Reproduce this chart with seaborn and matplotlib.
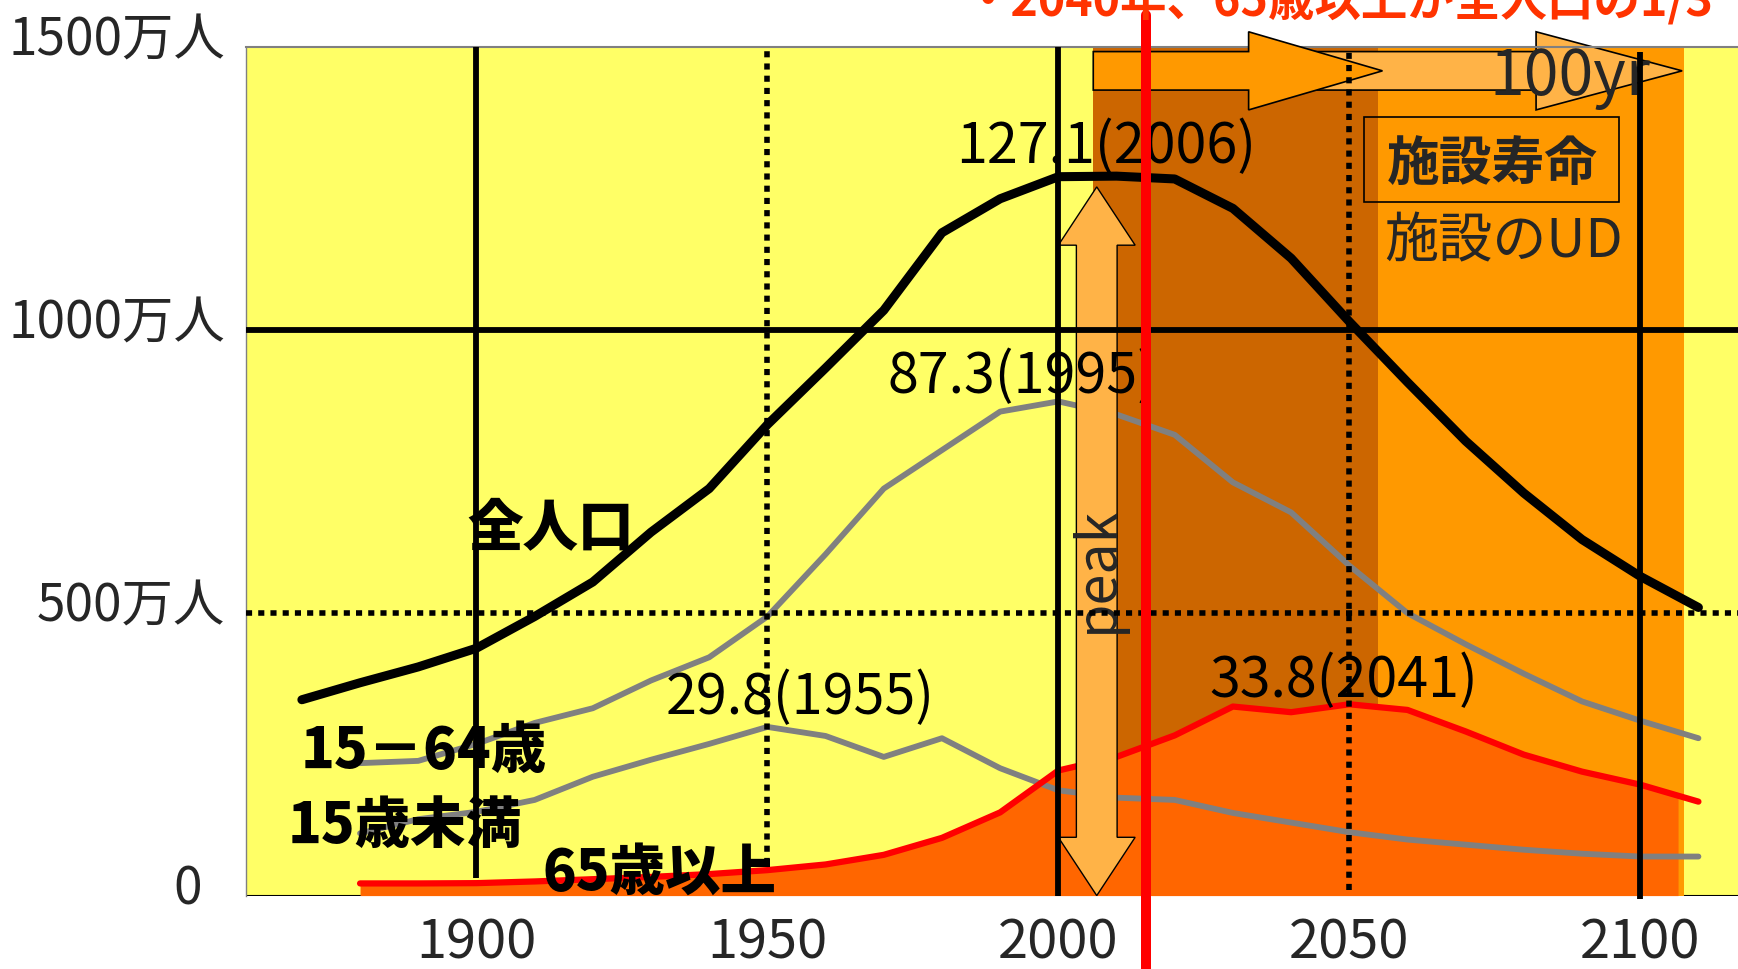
import numpy as np
import matplotlib
matplotlib.use("Agg")
import matplotlib.pyplot as plt
from matplotlib.patches import Polygon, Rectangle
from matplotlib.transforms import ScaledTranslation
import seaborn as sns

# Population of Japan (units as labelled on the axis), actual + projected
years = list(range(1870, 2111, 10))
total = [346, 376, 404, 437, 493, 554, 642, 719, 832, 932, 1034, 1171, 1231,
         1270, 1271, 1266, 1214, 1126, 1014, 907, 803, 711, 629, 564, 509]

years_age = list(range(1880, 2111, 10))
age_15_64 = [234, 238, 268, 305, 331, 380, 421, 493, 603, 719, 787, 855, 873,
             850, 814, 730, 677, 583, 499, 444, 392, 343, 309, 278]
age_0_14 = [110, 135, 148, 169, 210, 240, 268, 298, 282, 245, 278, 225, 186,
            173, 169, 146, 129, 112, 99, 90, 81, 74, 69, 69]
age_65 = [21.5, 21.5, 22, 25, 29, 33, 38, 45, 55, 72, 102, 147, 221, 245,
          283, 334, 324, 338, 328, 290, 249, 219, 196, 166]

y_ticks = [0, 500, 1000, 1500]
y_labels = ["0  ", "500万人", "1000万人", "1500万人"]
x_ticks = [1900, 1950, 2000, 2050, 2100]
x_labels = ["1900", "1950", "2000", "2050", "2100"]

peak_labels = ["127.1(2006)", "87.3(1995)", "29.8(1955)", "33.8(2041)"]
series_names = ["全人口", "15－64歳", "15歳未満", "65歳以上"]
title = "・2040年、65歳以上が全人口の1/3"

# facility life-span periods (peak -> +50 -> +100 years)
PEAK_YEAR = 2006
MID_YEAR = 2055
END_YEAR = 2107.5
NOW_YEAR = 2015

YELLOW = "#FFFF66"
BROWN = "#CC6600"
ORANGE = "#FF9900"
LIGHT = "#FFB347"
FILL = "#FF6600"
GREY = "#808080"
RED = "#FF0000"

sns.set_style("white")
plt.rcParams["font.family"] = ["Noto Sans CJK JP", "DejaVu Sans"]

fig = plt.figure(figsize=(17.38, 9.69), dpi=100)
ax = fig.add_axes([246 / 1738, 73.4 / 969, 1 - 246 / 1738, 849.1 / 969])
ax.set_facecolor(YELLOW)
ax.set_xlim(1860.4, 2116.8)
ax.set_ylim(0, 1500)

# life-span zones
ax.axvspan(PEAK_YEAR, MID_YEAR, color=BROWN, lw=0, zorder=1)
ax.axvspan(MID_YEAR, END_YEAR, color=ORANGE, lw=0, zorder=1)

# area under the 65+ series
fill_end = END_YEAR - 1
fx = [y for y in years_age if y < fill_end] + [fill_end]
fy = [v for y, v in zip(years_age, age_65) if y < fill_end] + [np.interp(fill_end, years_age, age_65)]
ax.fill_between(fx, 0, fy, color=FILL, lw=0, zorder=1.5)

ax.axhline(0, color="black", lw=1.5, zorder=0.8)

# series lines
sns.lineplot(x=years_age, y=age_15_64, color=GREY, lw=4.2, ax=ax, zorder=2)
sns.lineplot(x=years_age, y=age_0_14, color=GREY, lw=4.2, ax=ax, zorder=2)
sns.lineplot(x=years_age, y=age_65, color=RED, lw=4.5, ax=ax, zorder=2.1)
sns.lineplot(x=years, y=total, color="black", lw=6.5, ax=ax, zorder=2.2)

# double-headed "peak" arrow
c, hw, hh, hl = 2006.6, 3.5, 6.6, 103
y0, y1 = 0, 1252
peak_poly = [(c, y1), (c + hh, y1 - hl), (c + hw, y1 - hl), (c + hw, y0 + hl),
             (c + hh, y0 + hl), (c, y0), (c - hh, y0 + hl), (c - hw, y0 + hl),
             (c - hw, y1 - hl), (c - hh, y1 - hl)]
ax.add_patch(Polygon(peak_poly, closed=True, fc=LIGHT, ec="black", lw=1.0, zorder=2.5))


def right_arrow(x0, x1, head_len, yc, half_shaft, half_head):
    xb = x1 - head_len
    return [(x0, yc - half_shaft), (xb, yc - half_shaft), (xb, yc - half_head),
            (x1, yc), (xb, yc + half_head), (xb, yc + half_shaft), (x0, yc + half_shaft)]


ax.add_patch(Polygon(right_arrow(2036, 2107.2, 25.1, 1457, 34, 69), closed=True,
                     fc=LIGHT, ec="black", lw=1.2, zorder=2.5, clip_on=False))
ax.add_patch(Polygon(right_arrow(PEAK_YEAR, 2055.7, 23, 1457, 34, 69), closed=True,
                     fc=ORANGE, ec="black", lw=1.2, zorder=2.6, clip_on=False))

ax.add_patch(Rectangle((2052.6, 1225.8), 43.8, 148.8, fill=False, ec="black",
                       lw=1.2, zorder=2.6))

# annotations
num_kw = dict(ha="center", va="center", fontsize=40, color="black", zorder=2.8)
ax.text(2008.2, 1321, peak_labels[0], **num_kw)
ax.text(1993.7, 916, peak_labels[1], **num_kw)
ax.text(1955.6, 348, peak_labels[2], **num_kw)
ax.text(2049, 378, peak_labels[3], **num_kw)

name_kw = dict(ha="center", va="center", fontsize=40, fontweight=900,
               color="black", zorder=2.8)
ax.text(1912.8, 646, series_names[0], **name_kw)
ax.text(1890.9, 254, series_names[1], **name_kw)
ax.text(1887.6, 123, series_names[2], **name_kw)
ax.text(1931.4, 39, series_names[3], **name_kw)

ax.text(2006.7, 576, "peak", rotation=90, ha="center", va="center",
        fontsize=40, zorder=2.8)
ax.text(2074.5, 1292, "施設寿命", ha="center", va="center", fontsize=38,
        fontweight="bold", zorder=2.8)
ax.text(2076.6, 1155, "施設のUD", ha="center", va="center", fontsize=39, zorder=2.8)
ax.text(2088, 1445, "100yr", ha="center", va="center", fontsize=45, zorder=2.8)

# reference lines
solid = dict(colors="black", lw=4.2, zorder=3)
dotted = dict(colors="black", lw=4.0, zorder=3, linestyles=[(0, (1.1, 1.1))])
ax.vlines(x_ticks[0], 31, 1500, **solid)
ax.vlines(x_ticks[1], 55, 1500, **dotted)
ax.vlines(x_ticks[2], 0, 1500, **solid)
ax.vlines(x_ticks[3], 10, 1500, **dotted)
ax.vlines(x_ticks[4], -6, 1490, clip_on=False, **solid)
ax.hlines(1000, 1860.4, 2116.8, **solid)
ax.hlines(500, 1860.4, 2116.8, **dotted)

# current year marker
ax.axvline(NOW_YEAR, ymin=-0.1, ymax=1.037, color=RED, lw=7.2, clip_on=False, zorder=6)

# axes dressing
for side in ["right", "bottom"]:
    ax.spines[side].set_visible(False)
ax.spines["left"].set_color(GREY)
ax.spines["left"].set_linewidth(1.0)
ax.spines["top"].set_color(GREY)
ax.spines["top"].set_linewidth(1.5)

ax.set_xticks(x_ticks)
ax.set_xticklabels(x_labels, fontsize=39)
ax.set_yticks(y_ticks)
ax.set_yticklabels(y_labels, fontsize=37)
ax.tick_params(axis="x", length=0, pad=14)
ax.tick_params(axis="y", length=0, pad=15)
shift = ScaledTranslation(0, 12 / 100, fig.dpi_scale_trans)
for lab in ax.get_yticklabels():
    lab.set_transform(lab.get_transform() + shift)
ax.set_xlabel("")
ax.set_ylabel("")

fig.text(965 / 1738, 1 - 16 / 969, title, ha="left", va="baseline",
         fontsize=33.5, fontweight="bold", color="#FF3300", zorder=7)

fig.savefig("out.png", dpi=100)
